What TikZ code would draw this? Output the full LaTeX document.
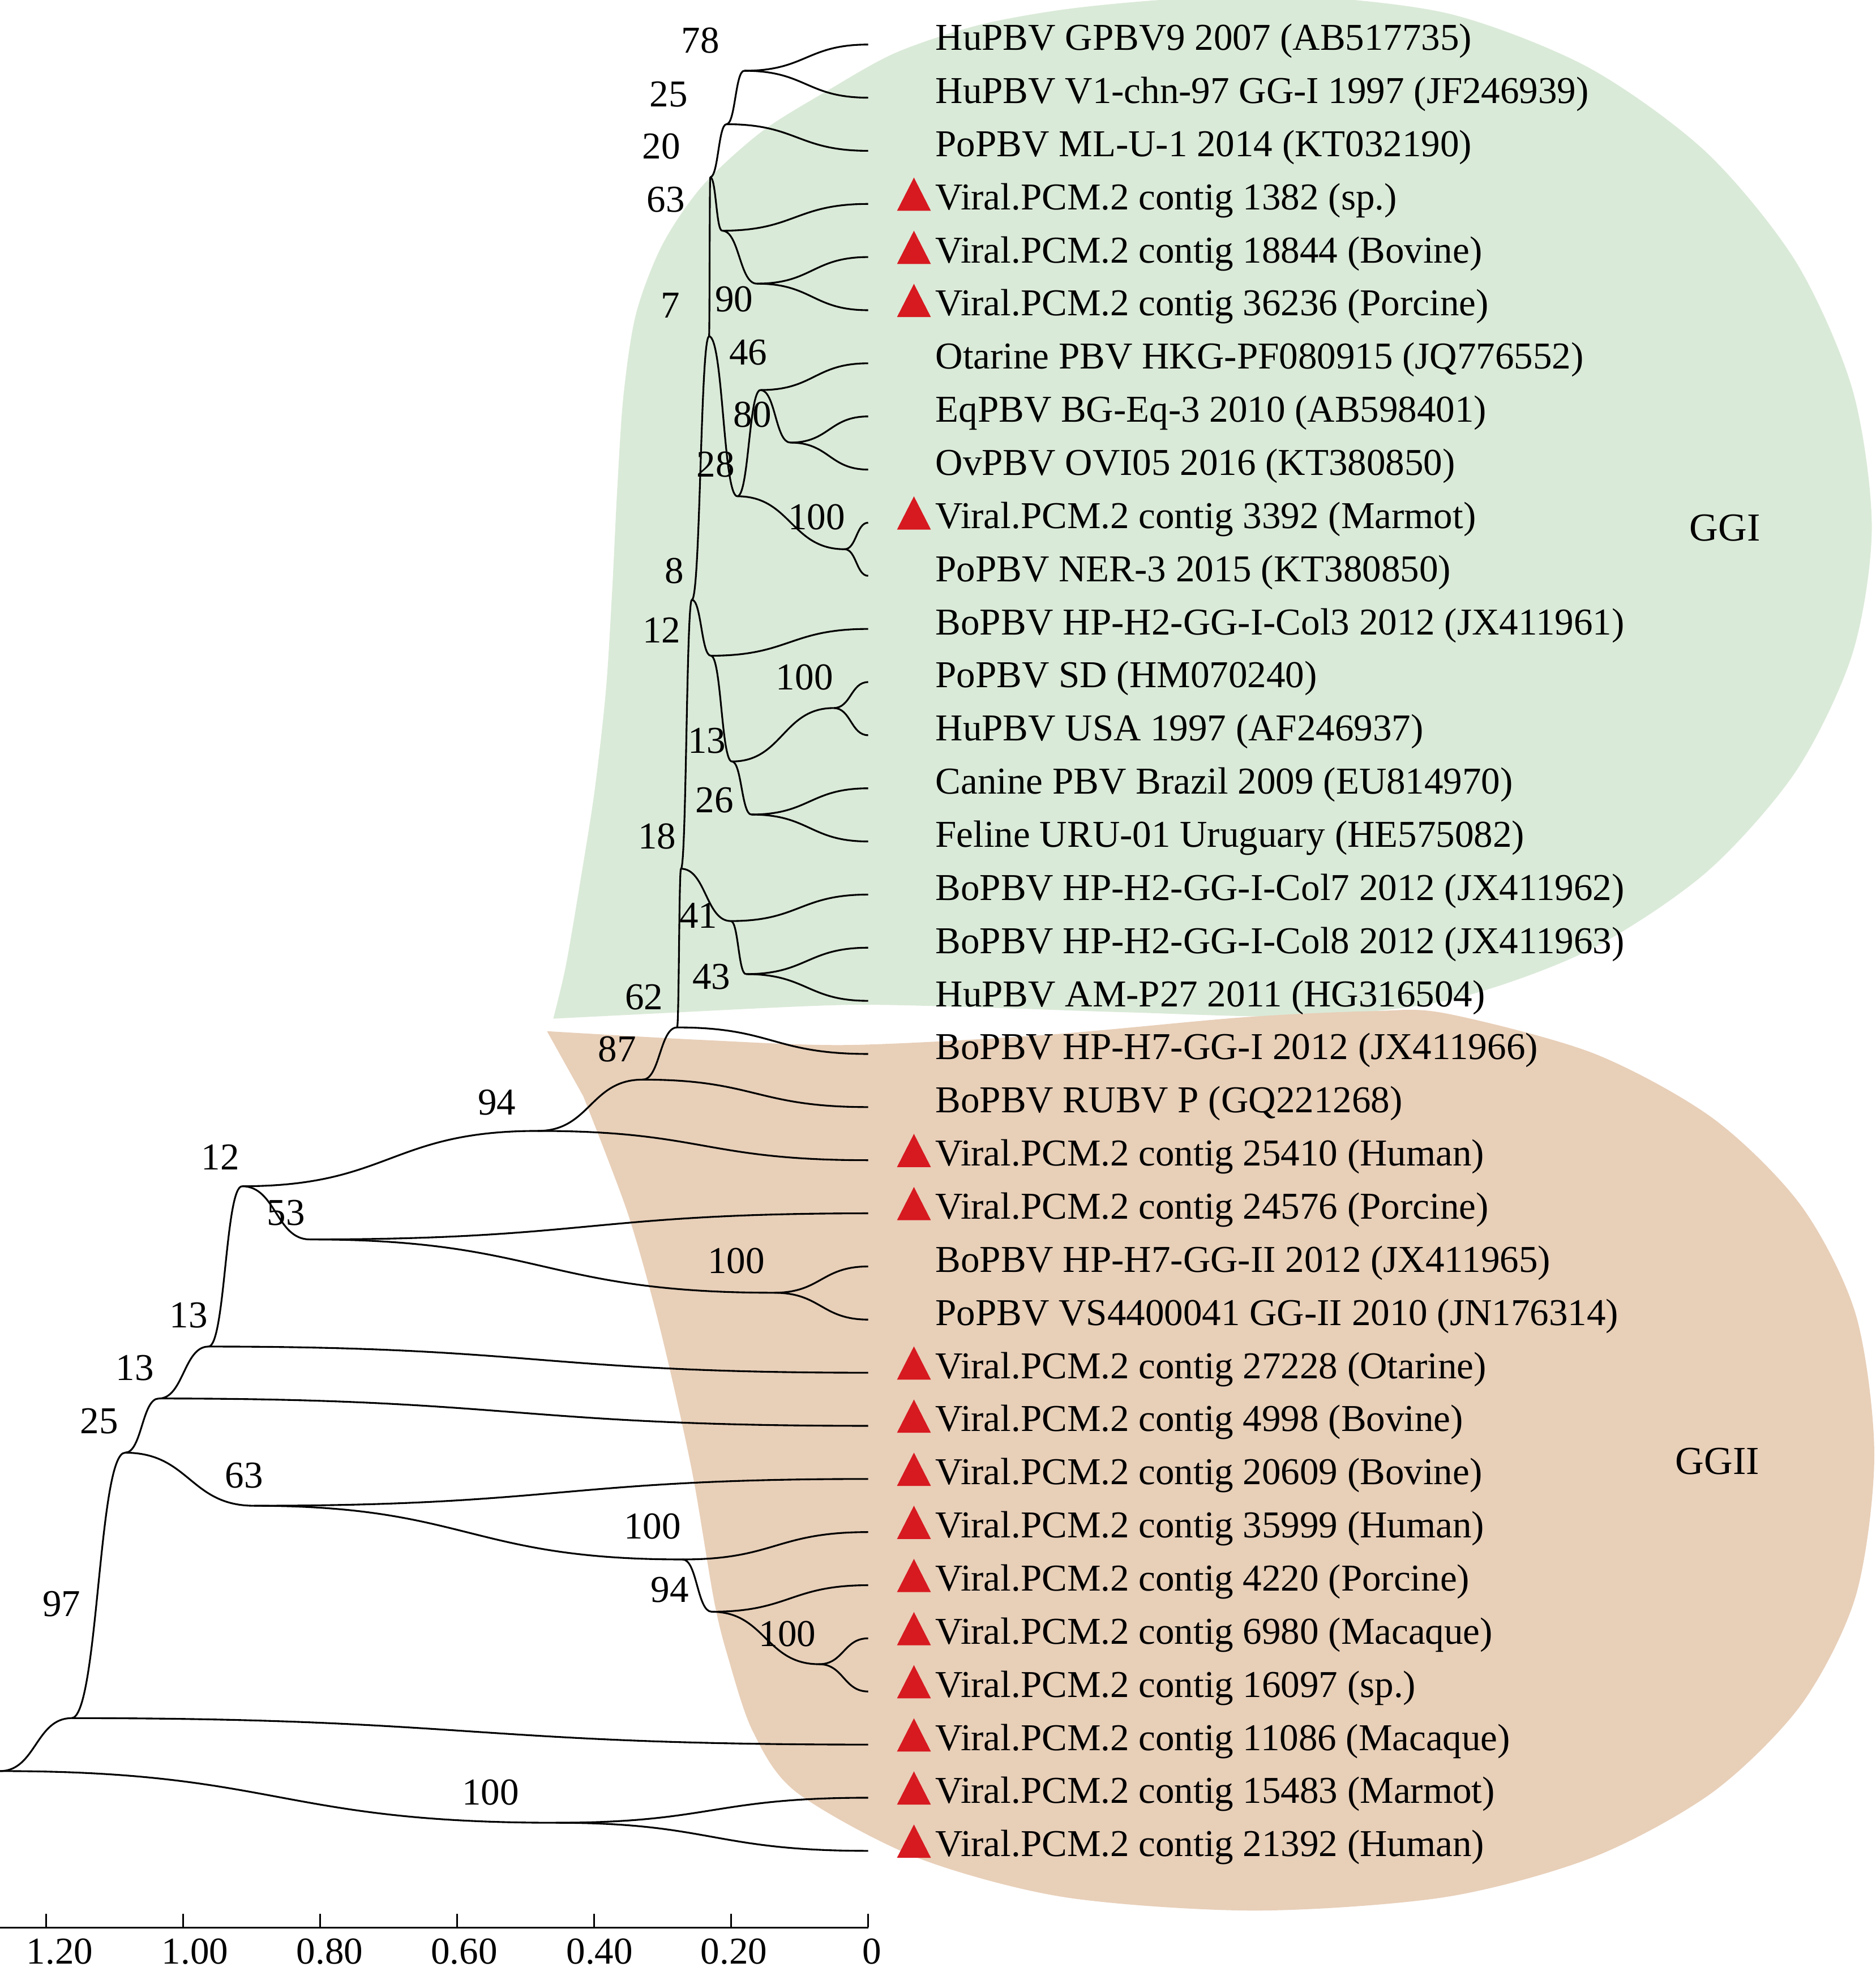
\documentclass[tikz,border=0pt]{standalone}
\usepackage{fontspec}
\setmainfont{Liberation Serif}
\usetikzlibrary{calc}

\definecolor{ggone}{RGB}{218,234,216}
\definecolor{ggtwo}{RGB}{232,207,184}
\definecolor{markred}{RGB}{215,25,32}

% one curved branch from a parent to a child
\newcommand{\tbranch}[2]{%
  \draw[treeline] let \p1=(#1), \p2=(#2) in
    (\p1) .. controls ({0.5*\x1+0.5*\x2},\y1) and ({0.5*\x1+0.5*\x2},\y2) .. (\p2);}

\begin{document}
\begin{tikzpicture}[x=0.01cm, y=-0.01cm,
    treeline/.style={line width=0.4pt, black},
    boot/.style={font=\fontsize{8.6}{10.3}\selectfont, inner sep=0pt},
    leaf/.style={font=\fontsize{8.6}{10.3}\selectfont, inner sep=0pt, anchor=base west},
    redmark/.style={fill=markred}]
    \useasboundingbox (0,0) rectangle (1495,1568);

    % Shaded genogroups
    \begin{scope}
        \clip (0,0) rectangle (1495,1568);
        \fill[ggone] plot[smooth] coordinates {(441,812) (451,770) (463,700) (474,630) (483,550)
            (488,470) (492,390) (497,315) (507,250) (528,195) (560,148) (607,105) (660,72)
            (714,42) (780,20) (852,7) (940,-1) (1040,-3) (1157,11.4) (1266,53.7) (1359.6,120.9)
            (1431.4,208.5) (1476.6,310.5) (1492,420) (1476.6,521) (1431.4,615) (1359.6,695.8)
            (1266,757.7) (1157,796.7) (1040,810) (900,807) (780,803) (677,801) (560,806)} -- cycle;
        \fill[ggtwo] plot[smooth] coordinates {(436,822) (560,829) (677,833) (833,825) (990,811)
            (1094,806) (1152.3,807.8) (1270.3,839.7) (1365.4,891.5) (1435.9,961.4)
            (1479.3,1048.1) (1494,1160) (1479.3,1271.9) (1435.9,1358.6) (1365.4,1428.5)
            (1270.3,1480.3) (1152.3,1512.2) (1000,1523) (847.7,1512.2) (729.7,1480.3)
            (634.6,1428.5) (600,1380) (580,1320) (569,1275) (553,1180) (537,1105) (520,1035)
            (499,963) (465,874)} -- cycle;
    \end{scope}
    \node[boot, font=\fontsize{9}{11}\selectfont] (ggi) at (1375,421) {GGI};
    \node[boot, font=\fontsize{9}{11}\selectfont] (ggii) at (1369,1165) {GGII};

    % Tips
    \foreach \i in {1,...,35}
        \coordinate (l\i) at (692,{35.5+42.35*(\i-1)});

    % Inner nodes
    \coordinate (a78) at (593.2,56.4);
    \coordinate (a25) at (579.1,99);
    \coordinate (a20) at (566.1,141.2);
    \coordinate (a63) at (575.6,183.9);
    \coordinate (a90) at (603.2,226.1);
    \coordinate (a7) at (565.2,268.1);
    \coordinate (a28) at (587.7,395.6);
    \coordinate (a46) at (606.2,310.9);
    \coordinate (a80) at (630,352.8);
    \coordinate (a100) at (673.2,437.8);
    \coordinate (a8) at (551.5,478.1);
    \coordinate (a12) at (566.6,522.7);
    \coordinate (a13) at (583.4,607);
    \coordinate (b100) at (664.5,564.4);
    \coordinate (a26) at (598.9,649.3);
    \coordinate (a18) at (542.8,692.5);
    \coordinate (a41) at (582.5,734.2);
    \coordinate (a43) at (594.6,776.5);
    \coordinate (a62) at (539.7,819);
    \coordinate (a87) at (512.3,860.6);
    \coordinate (a94) at (428.7,901.5);
    \coordinate (b12) at (193,945.6);
    \coordinate (a53) at (247,988);
    \coordinate (c100) at (617,1030.5);
    \coordinate (b13) at (166.2,1073.4);
    \coordinate (c13) at (126.6,1114.8);
    \coordinate (b25) at (99.7,1158);
    \coordinate (b63) at (202.6,1200.3);
    \coordinate (d100) at (544.1,1243.1);
    \coordinate (b94) at (567.3,1284.8);
    \coordinate (e100) at (652.9,1326.6);
    \coordinate (a97) at (57,1369.6);
    \coordinate (root) at (0,1411.8);
    \coordinate (f100) at (443,1453);

    % Branches
    \tbranch{a78}{l1} \tbranch{a78}{l2}
    \tbranch{a25}{a78} \tbranch{a25}{l3}
    \tbranch{a20}{a25} \tbranch{a20}{a63}
    \tbranch{a63}{l4} \tbranch{a63}{a90}
    \tbranch{a90}{l5} \tbranch{a90}{l6}
    \tbranch{a7}{a20} \tbranch{a7}{a28}
    \tbranch{a28}{a46} \tbranch{a28}{a100}
    \tbranch{a46}{l7} \tbranch{a46}{a80}
    \tbranch{a80}{l8} \tbranch{a80}{l9}
    \tbranch{a100}{l10} \tbranch{a100}{l11}
    \tbranch{a8}{a7} \tbranch{a8}{a12}
    \tbranch{a12}{l12} \tbranch{a12}{a13}
    \tbranch{a13}{b100} \tbranch{a13}{a26}
    \tbranch{b100}{l13} \tbranch{b100}{l14}
    \tbranch{a26}{l15} \tbranch{a26}{l16}
    \tbranch{a18}{a8} \tbranch{a18}{a41}
    \tbranch{a41}{l17} \tbranch{a41}{a43}
    \tbranch{a43}{l18} \tbranch{a43}{l19}
    \tbranch{a62}{a18} \tbranch{a62}{l20}
    \tbranch{a87}{a62} \tbranch{a87}{l21}
    \tbranch{a94}{a87} \tbranch{a94}{l22}
    \tbranch{b12}{a94} \tbranch{b12}{a53}
    \tbranch{a53}{l23} \tbranch{a53}{c100}
    \tbranch{c100}{l24} \tbranch{c100}{l25}
    \tbranch{b13}{b12} \tbranch{b13}{l26}
    \tbranch{c13}{b13} \tbranch{c13}{l27}
    \tbranch{b25}{c13} \tbranch{b25}{b63}
    \tbranch{b63}{l28} \tbranch{b63}{d100}
    \tbranch{d100}{l29} \tbranch{d100}{b94}
    \tbranch{b94}{l30} \tbranch{b94}{e100}
    \tbranch{e100}{l31} \tbranch{e100}{l32}
    \tbranch{a97}{b25} \tbranch{a97}{l33}
    \tbranch{root}{a97} \tbranch{root}{f100}
    \tbranch{f100}{l34} \tbranch{f100}{l35}

    % Bootstrap values
    \node[boot] (s78) at (558.3,32.4) {78};
    \node[boot] (s25) at (533,75) {25};
    \node[boot] (s20) at (527.2,116.6) {20};
    \node[boot] (s63) at (530.7,159.3) {63};
    \node[boot] (s7) at (534.2,243.5) {7};
    \node[boot] (s90) at (585.1,238.3) {90};
    \node[boot] (s46) at (596.3,281.1) {46};
    \node[boot] (s80) at (599.8,330.3) {80};
    \node[boot] (s28) at (570.4,370.4) {28};
    \node[boot] (s100a) at (651,412) {100};
    \node[boot] (s8) at (537.6,455) {8};
    \node[boot] (s12a) at (527.3,502.5) {12};
    \node[boot] (s100b) at (641.3,540) {100};
    \node[boot] (s13a) at (563.5,590.3) {13};
    \node[boot] (s26) at (569.5,637.8) {26};
    \node[boot] (s18) at (523.8,666.6) {18};
    \node[boot] (s41) at (556.6,729.9) {41};
    \node[boot] (s43) at (567,778.8) {43};
    \node[boot] (s62) at (513.4,794.7) {62};
    \node[boot] (s87) at (491.9,836.4) {87};
    \node[boot] (s94a) at (396,879) {94};
    \node[boot] (s12b) at (175.7,922.3) {12};
    \node[boot] (s53) at (228,966.6) {53};
    \node[boot] (s100c) at (586.8,1005.3) {100};
    \node[boot] (s13b) at (150.4,1048.4) {13};
    \node[boot] (s13c) at (107.6,1090.3) {13};
    \node[boot] (s25b) at (79.1,1133) {25};
    \node[boot] (s63b) at (194.7,1176.1) {63};
    \node[boot] (s100d) at (520,1216.8) {100};
    \node[boot] (s94b) at (534,1267.4) {94};
    \node[boot] (s100e) at (627.7,1302.3) {100};
    \node[boot] (s97) at (49.1,1278.8) {97};
    \node[boot] (s100f) at (391,1429) {100};

    % Tip labels
    \foreach \i/\txt in {1/{HuPBV GPBV9 2007 (AB517735)},
        2/{HuPBV V1-chn-97 GG-I 1997 (JF246939)},
        3/{PoPBV ML-U-1 2014 (KT032190)},
        4/{Viral.PCM.2 contig 1382 (sp.)},
        5/{Viral.PCM.2 contig 18844 (Bovine)},
        6/{Viral.PCM.2 contig 36236 (Porcine)},
        7/{Otarine PBV HKG-PF080915 (JQ776552)},
        8/{EqPBV BG-Eq-3 2010 (AB598401)},
        9/{OvPBV OVI05 2016 (KT380850)},
        10/{Viral.PCM.2 contig 3392 (Marmot)},
        11/{PoPBV NER-3 2015 (KT380850)},
        12/{BoPBV HP-H2-GG-I-Col3 2012 (JX411961)},
        13/{PoPBV SD (HM070240)},
        14/{HuPBV USA 1997 (AF246937)},
        15/{Canine PBV Brazil 2009 (EU814970)},
        16/{Feline URU-01 Uruguary (HE575082)},
        17/{BoPBV HP-H2-GG-I-Col7 2012 (JX411962)},
        18/{BoPBV HP-H2-GG-I-Col8 2012 (JX411963)},
        19/{HuPBV AM-P27 2011 (HG316504)},
        20/{BoPBV HP-H7-GG-I 2012 (JX411966)},
        21/{BoPBV RUBV P (GQ221268)},
        22/{Viral.PCM.2 contig 25410 (Human)},
        23/{Viral.PCM.2 contig 24576 (Porcine)},
        24/{BoPBV HP-H7-GG-II 2012 (JX411965)},
        25/{PoPBV VS4400041 GG-II 2010 (JN176314)},
        26/{Viral.PCM.2 contig 27228 (Otarine)},
        27/{Viral.PCM.2 contig 4998 (Bovine)},
        28/{Viral.PCM.2 contig 20609 (Bovine)},
        29/{Viral.PCM.2 contig 35999 (Human)},
        30/{Viral.PCM.2 contig 4220 (Porcine)},
        31/{Viral.PCM.2 contig 6980 (Macaque)},
        32/{Viral.PCM.2 contig 16097 (sp.)},
        33/{Viral.PCM.2 contig 11086 (Macaque)},
        34/{Viral.PCM.2 contig 15483 (Marmot)},
        35/{Viral.PCM.2 contig 21392 (Human)}}
        \node[leaf] (t\i) at ($(l\i)+(53,4.5)$) {\txt};

    % Red marks for the new contigs
    \foreach \i in {4,5,6,10,22,23,26,27,28,29,30,31,32,33,34,35}
        \fill[redmark] ($(l\i)+(23,5.5)$) -- ++(27,0) -- ++(-13.5,-26.5) -- cycle;

    % Scale axis
    \coordinate (ax0) at (0,1536.6);
    \coordinate (ax1) at (692,1536.6);
    \draw[line width=0.5pt] (ax0) -- (ax1);
    \foreach \k in {0,...,6}
        \draw[treeline] ({692-109.2*\k},1525.7) -- ({692-109.2*\k},1536.6);
    \foreach \lx/\lab in {695/0, 585/0.20, 478/0.40, 370/0.60, 262.8/0.80, 155.5/1.00, 47.6/1.20}
        \node[boot, anchor=base] (x\lab) at (\lx,1565.5) {\lab};
\end{tikzpicture}
\end{document}
